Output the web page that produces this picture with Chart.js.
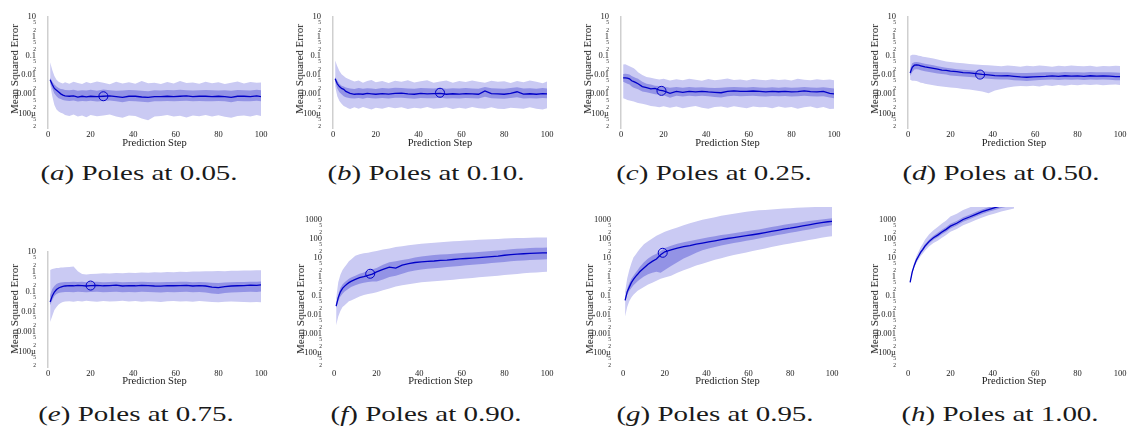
<!DOCTYPE html>
<html><head><meta charset="utf-8">
<script src="https://cdn.jsdelivr.net/npm/chart.js@4/dist/chart.umd.min.js"></script>
<style>
html,body{margin:0;padding:0;background:#fff;}
body{width:1128px;height:427px;position:relative;overflow:hidden;font-family:"Liberation Serif","DejaVu Serif",serif;color:#1a1a1a;}
canvas{position:absolute;}
.yt{position:absolute;font-size:11px;white-space:nowrap;transform:translate(-50%,-50%) rotate(-90deg);}
.cap{position:absolute;font-family:"Liberation Serif",serif;font-size:21px;white-space:nowrap;transform:translate(-50%,-50%) scaleX(1.38);}
</style></head><body>
<script>
// ---- shared x values (prediction steps) ----
const steps = [1,2,3,4,5,6,7,8, 10,12,14,16,18,20, 23,26,29,32,35,38,41,44,47,50, 53,56,59,62,65,68,71,74,77,80, 83,86,89,92,95,98,100];

// ---- y tick labels (log axis) ----
const yMajorValues = [1e-5,1e-4,1e-3,1e-2,1e-1,1,10,100,1000];
const yMajorLabels = ['10µ','100µ','0.001','0.01','0.1','1','10','100','1000'];
const yMinorFactors = [2,5];
const yMinorLabels = ['2','5'];

// ---- panel captions ----
const capLetters = ['a','b','c','d','e','f','g','h'];
const capPoles = ['0.05','0.10','0.25','0.50','0.75','0.90','0.95','1.00'];

// ---- (a) poles 0.05 ----
const medA = [5.6e-3,3.2e-3,2.0e-3,1.6e-3,1.3e-3,1.05e-3,9.0e-4,8.3e-4, 7.9e-4,8.3e-4,7.2e-4,7.9e-4,7.4e-4,7.9e-4, 7.6e-4,7.9e-4,8.3e-4,7.6e-4,6.9e-4,7.9e-4,7.9e-4,7.2e-4,6.9e-4,7.6e-4, 7.6e-4,7.9e-4,7.6e-4,7.9e-4,8.3e-4,7.6e-4,7.9e-4,7.9e-4,7.6e-4,7.9e-4, 7.6e-4,6.9e-4,7.9e-4,7.9e-4,7.6e-4,8.3e-4,7.6e-4];
const q75A = [7.1e-3,4.5e-3,3.2e-3,2.5e-3,2.1e-3,1.9e-3,1.8e-3,1.65e-3, 1.6e-3,1.7e-3,1.5e-3,1.6e-3,1.55e-3,1.7e-3, 1.5e-3,1.75e-3,1.6e-3,1.5e-3,1.55e-3,1.65e-3,1.6e-3,1.5e-3,1.45e-3,1.6e-3, 1.55e-3,1.65e-3,1.6e-3,1.7e-3,1.6e-3,1.55e-3,1.6e-3,1.65e-3,1.6e-3,1.55e-3, 1.6e-3,1.5e-3,1.65e-3,1.6e-3,1.55e-3,1.7e-3,1.6e-3];
const q25A = [4.0e-3,2.0e-3,1.1e-3,7.9e-4,6.3e-4,5.6e-4,5.0e-4,4.8e-4, 4.5e-4,4.7e-4,4.2e-4,4.5e-4,4.3e-4,4.6e-4, 4.2e-4,4.5e-4,4.7e-4,4.3e-4,3.9e-4,4.5e-4,4.4e-4,4.1e-4,3.8e-4,4.3e-4, 4.4e-4,4.5e-4,4.3e-4,4.5e-4,4.6e-4,4.3e-4,4.5e-4,4.4e-4,4.3e-4,4.5e-4, 4.3e-4,3.9e-4,4.5e-4,4.4e-4,4.3e-4,4.6e-4,4.3e-4];
const q95A = [4.5e-2,1.8e-2,8.9e-3,5.6e-3,4.5e-3,4.0e-3,3.6e-3,4.2e-3, 3.5e-3,4.5e-3,3.8e-3,3.4e-3,4.3e-3,3.7e-3, 4.6e-3,3.9e-3,3.3e-3,4.4e-3,3.6e-3,4.2e-3,3.5e-3,4.8e-3,3.7e-3,4.0e-3, 3.4e-3,4.3e-3,3.6e-3,4.9e-3,3.8e-3,4.1e-3,3.5e-3,4.4e-3,3.7e-3,4.2e-3, 3.4e-3,4.0e-3,4.6e-3,3.6e-3,4.3e-3,3.9e-3,4.1e-3];
const q05A = [3.2e-3,7.9e-4,2.8e-4,1.6e-4,1.26e-4,1.1e-4,1.0e-4,8.5e-5, 7.5e-5,9.0e-5,7.0e-5,8.0e-5,6.5e-5,8.5e-5, 7.2e-5,8.0e-5,9.0e-5,7.0e-5,6.0e-5,8.0e-5,7.5e-5,5.5e-5,4.5e-5,7.0e-5, 7.5e-5,8.5e-5,7.0e-5,7.8e-5,6.3e-5,8.0e-5,7.2e-5,8.5e-5,7.0e-5,8.2e-5, 6.8e-5,6.0e-5,7.5e-5,8.0e-5,7.0e-5,8.5e-5,7.5e-5];

// ---- (b) poles 0.10 ----
const medB = [6.3e-3,3.5e-3,2.5e-3,2.0e-3,1.8e-3,1.4e-3,1.26e-3,1.12e-3, 1.0e-3,1.05e-3,1.0e-3,1.1e-3,1.05e-3,1.0e-3, 1.08e-3,1.02e-3,1.1e-3,1.15e-3,1.05e-3,1.0e-3,1.1e-3,1.05e-3,1.08e-3,1.12e-3, 1.0e-3,1.06e-3,1.02e-3,1.08e-3,1.04e-3,1.0e-3,1.5e-3,1.08e-3,1.04e-3,1.0e-3, 1.1e-3,1.35e-3,1.02e-3,1.06e-3,1.0e-3,1.08e-3,1.05e-3];
const q75B = [7.9e-3,5.0e-3,3.5e-3,2.8e-3,2.5e-3,2.25e-3,2.1e-3,2.0e-3, 1.9e-3,2.1e-3,1.95e-3,2.05e-3,2.0e-3,1.9e-3, 2.1e-3,2.0e-3,2.15e-3,2.1e-3,2.0e-3,1.95e-3,2.1e-3,2.05e-3,2.0e-3,2.1e-3, 1.95e-3,2.05e-3,2.0e-3,2.1e-3,2.0e-3,1.95e-3,2.4e-3,2.05e-3,2.0e-3,1.95e-3, 2.1e-3,2.3e-3,2.0e-3,2.05e-3,1.95e-3,2.1e-3,2.0e-3];
const q25B = [4.5e-3,2.0e-3,1.26e-3,1.0e-3,7.9e-4,7.1e-4,6.6e-4,6.3e-4, 6.0e-4,6.4e-4,5.8e-4,6.5e-4,6.2e-4,6.0e-4, 6.4e-4,6.1e-4,6.6e-4,6.5e-4,6.2e-4,5.9e-4,6.4e-4,6.2e-4,6.3e-4,6.5e-4, 6.0e-4,6.3e-4,6.1e-4,6.4e-4,6.2e-4,6.0e-4,7.5e-4,6.3e-4,6.1e-4,5.9e-4, 6.4e-4,7.0e-4,6.1e-4,6.3e-4,6.0e-4,6.4e-4,6.2e-4];
const q95B = [5.6e-2,2.8e-2,1.6e-2,1.1e-2,8.9e-3,7.1e-3,6.3e-3,5.6e-3, 4.6e-3,5.2e-3,4.0e-3,4.8e-3,5.5e-3,4.2e-3, 4.9e-3,3.8e-3,5.0e-3,4.4e-3,5.3e-3,4.1e-3,4.7e-3,5.4e-3,4.0e-3,4.6e-3, 5.1e-3,3.9e-3,4.8e-3,4.3e-3,5.2e-3,4.5e-3,4.0e-3,5.0e-3,4.4e-3,4.7e-3, 3.8e-3,4.9e-3,4.2e-3,5.1e-3,4.5e-3,3.7e-3,4.6e-3];
const q05B = [2.5e-3,7.9e-4,4.5e-4,3.2e-4,2.5e-4,2.2e-4,1.9e-4,1.7e-4, 2.1e-4,1.8e-4,2.2e-4,1.9e-4,1.6e-4,2.0e-4, 1.8e-4,2.2e-4,1.9e-4,2.1e-4,1.7e-4,2.0e-4,1.85e-4,2.2e-4,1.8e-4,1.9e-4, 2.1e-4,1.7e-4,2.0e-4,1.8e-4,2.2e-4,1.9e-4,1.75e-4,2.1e-4,1.8e-4,1.7e-4, 2.0e-4,1.9e-4,1.75e-4,2.1e-4,1.8e-4,1.6e-4,1.9e-4];

// ---- (c) poles 0.25 ----
const medC = [7.1e-3,7.1e-3,6.8e-3,6.3e-3,5.0e-3,4.5e-3,4.0e-3,3.5e-3, 2.5e-3,2.2e-3,1.9e-3,2.0e-3,1.66e-3,1.5e-3, 1.12e-3,1.41e-3,1.26e-3,1.41e-3,1.32e-3,1.41e-3,1.32e-3,1.26e-3,1.2e-3,1.41e-3, 1.5e-3,1.41e-3,1.41e-3,1.48e-3,1.41e-3,1.32e-3,1.41e-3,1.35e-3,1.41e-3,1.32e-3, 1.38e-3,1.5e-3,1.38e-3,1.32e-3,1.41e-3,1.12e-3,1.05e-3];
const q75C = [1.12e-2,1.15e-2,1.12e-2,1.05e-2,8.9e-3,7.9e-3,7.0e-3,6.3e-3, 4.5e-3,3.5e-3,3.2e-3,2.8e-3,2.7e-3,2.5e-3, 2.2e-3,2.4e-3,2.2e-3,2.35e-3,2.25e-3,2.3e-3,2.2e-3,2.1e-3,2.15e-3,2.3e-3, 2.4e-3,2.3e-3,2.25e-3,2.35e-3,2.25e-3,2.2e-3,2.3e-3,2.2e-3,2.3e-3,2.2e-3, 2.25e-3,2.35e-3,2.25e-3,2.2e-3,2.3e-3,2.1e-3,2.0e-3];
const q25C = [4.5e-3,4.0e-3,3.5e-3,3.2e-3,2.5e-3,2.2e-3,2.0e-3,1.8e-3, 1.41e-3,1.26e-3,1.12e-3,1.0e-3,9.5e-4,8.9e-4, 6.6e-4,8.5e-4,7.6e-4,8.3e-4,7.9e-4,8.3e-4,7.8e-4,7.2e-4,6.8e-4,8.0e-4, 8.5e-4,8.0e-4,8.1e-4,8.4e-4,8.0e-4,7.6e-4,8.2e-4,7.8e-4,8.1e-4,7.7e-4, 7.9e-4,8.5e-4,7.9e-4,7.6e-4,8.0e-4,6.8e-4,6.3e-4];
const q95C = [3.5e-2,3.6e-2,3.2e-2,2.8e-2,2.5e-2,2.2e-2,1.8e-2,1.4e-2, 1.0e-2,7.9e-3,7.1e-3,6.3e-3,5.8e-3,6.4e-3, 5.2e-3,6.0e-3,5.4e-3,6.3e-3,5.6e-3,5.0e-3,6.1e-3,5.3e-3,5.8e-3,6.6e-3, 5.5e-3,5.9e-3,5.2e-3,6.2e-3,5.6e-3,5.4e-3,6.0e-3,5.5e-3,5.9e-3,5.2e-3, 6.3e-3,5.7e-3,5.3e-3,6.0e-3,5.5e-3,5.8e-3,5.4e-3];
const q05C = [6.3e-4,5.6e-4,5.0e-4,4.7e-4,4.5e-4,4.2e-4,3.9e-4,3.5e-4, 3.2e-4,2.9e-4,2.5e-4,2.3e-4,2.1e-4,2.4e-4, 2.0e-4,2.3e-4,1.9e-4,2.2e-4,2.5e-4,2.0e-4,1.8e-4,2.2e-4,2.3e-4,2.0e-4, 2.4e-4,2.1e-4,1.9e-4,2.3e-4,2.1e-4,2.2e-4,1.9e-4,2.3e-4,2.0e-4,2.2e-4, 1.8e-4,2.1e-4,2.3e-4,1.9e-4,2.2e-4,1.7e-4,1.8e-4];

// ---- (d) poles 0.50 ----
const medD = [1.26e-2,2.5e-2,3.2e-2,3.3e-2,3.2e-2,3.0e-2,2.8e-2,2.6e-2, 2.4e-2,2.2e-2,2.0e-2,1.8e-2,1.75e-2,1.58e-2, 1.5e-2,1.32e-2,1.3e-2,1.17e-2,1.07e-2,1.0e-2,9.3e-3,8.9e-3,9.3e-3,8.5e-3, 7.9e-3,7.6e-3,7.9e-3,8.3e-3,8.5e-3,8.9e-3,8.5e-3,9.1e-3,8.7e-3,8.9e-3, 8.5e-3,9.1e-3,8.7e-3,8.9e-3,8.7e-3,8.3e-3,8.3e-3];
const q75D = [2.0e-2,4.0e-2,4.5e-2,4.7e-2,4.5e-2,4.3e-2,4.0e-2,3.8e-2, 3.5e-2,3.2e-2,2.8e-2,2.6e-2,2.4e-2,2.2e-2, 2.0e-2,1.86e-2,1.74e-2,1.66e-2,1.58e-2,1.48e-2,1.41e-2,1.38e-2,1.4e-2,1.32e-2, 1.28e-2,1.25e-2,1.3e-2,1.35e-2,1.38e-2,1.4e-2,1.36e-2,1.42e-2,1.38e-2,1.4e-2, 1.35e-2,1.42e-2,1.37e-2,1.4e-2,1.38e-2,1.33e-2,1.32e-2];
const q25D = [8.9e-3,1.41e-2,1.9e-2,2.0e-2,1.9e-2,1.78e-2,1.66e-2,1.58e-2, 1.41e-2,1.32e-2,1.2e-2,1.12e-2,1.05e-2,9.5e-3, 8.9e-3,8.3e-3,7.9e-3,7.4e-3,6.8e-3,6.3e-3,6.0e-3,5.75e-3,5.9e-3,5.4e-3, 5.1e-3,4.9e-3,5.2e-3,5.5e-3,5.6e-3,5.8e-3,5.5e-3,5.9e-3,5.6e-3,5.8e-3, 5.5e-3,5.9e-3,5.6e-3,5.8e-3,5.6e-3,5.4e-3,5.3e-3];
const q95D = [0.1,0.112,0.112,0.107,0.1,0.095,0.089,0.085, 0.079,0.071,0.063,0.056,0.05,0.047, 0.043,0.04,0.037,0.035,0.033,0.032,0.03,0.028,0.031,0.029, 0.027,0.03,0.028,0.031,0.029,0.027,0.03,0.028,0.031,0.029, 0.028,0.03,0.027,0.029,0.028,0.03,0.029];
const q05D = [5.6e-3,5.0e-3,5.0e-3,4.8e-3,4.5e-3,4.0e-3,3.8e-3,3.5e-3, 3.2e-3,2.95e-3,2.7e-3,2.5e-3,2.4e-3,2.24e-3, 2.1e-3,1.9e-3,1.78e-3,1.58e-3,1.41e-3,1.12e-3,1.58e-3,1.9e-3,2.24e-3,2.5e-3, 2.7e-3,2.6e-3,2.8e-3,2.5e-3,2.9e-3,2.7e-3,3.0e-3,2.8e-3,3.1e-3,2.9e-3, 3.2e-3,3.0e-3,3.2e-3,2.9e-3,3.1e-3,3.2e-3,3.0e-3];

// ---- (e) poles 0.75 ----
const medE = [0.032,0.063,0.1,0.132,0.158,0.178,0.19,0.2, 0.21,0.205,0.215,0.21,0.2,0.21, 0.215,0.205,0.21,0.22,0.2,0.21,0.205,0.215,0.21,0.2, 0.195,0.21,0.205,0.21,0.215,0.2,0.21,0.2,0.175,0.165, 0.185,0.2,0.205,0.21,0.22,0.215,0.225];
const q75E = [0.071,0.141,0.2,0.25,0.28,0.3,0.31,0.32, 0.32,0.33,0.32,0.33,0.31,0.32, 0.33,0.31,0.32,0.33,0.31,0.32,0.32,0.33,0.32,0.31, 0.31,0.32,0.32,0.33,0.33,0.31,0.32,0.31,0.29,0.28, 0.3,0.31,0.32,0.32,0.33,0.33,0.34];
const q25E = [0.022,0.04,0.063,0.079,0.089,0.095,0.098,0.1, 0.1,0.097,0.102,0.1,0.096,0.1, 0.102,0.097,0.1,0.103,0.096,0.1,0.098,0.102,0.1,0.096, 0.094,0.1,0.098,0.1,0.102,0.096,0.1,0.095,0.085,0.08, 0.088,0.095,0.098,0.1,0.103,0.1,0.105];
const q95E = [1.26,1.41,1.51,1.58,1.58,1.66,1.7,1.74, 1.8,1.9,1.1,0.79,0.76,0.79, 0.82,0.86,0.84,0.9,0.87,0.92,0.89,0.95,0.93,0.97, 0.95,1.0,0.98,1.04,1.01,1.07,1.05,1.1,1.08,1.13, 1.1,1.16,1.14,1.2,1.18,1.24,1.22];
const q05E = [3.2e-3,6.3e-3,1.26e-2,1.78e-2,2.4e-2,2.8e-2,3.2e-2,3.4e-2, 3.5e-2,3.3e-2,3.6e-2,3.4e-2,3.7e-2,3.5e-2, 3.3e-2,3.6e-2,3.4e-2,3.5e-2,3.7e-2,3.4e-2,3.6e-2,3.3e-2,3.5e-2,3.4e-2, 3.2e-2,3.5e-2,3.6e-2,3.4e-2,3.5e-2,3.3e-2,3.6e-2,3.4e-2,3.2e-2,3.1e-2, 3.3e-2,3.4e-2,3.3e-2,3.2e-2,3.1e-2,3.2e-2,3.1e-2];

// ---- (f) poles 0.90 ----
const medF = [0.028,0.079,0.158,0.24,0.316,0.4,0.48,0.56, 0.71,0.89,1.0,1.17,1.35,1.78, 2.4,3.16,2.8,4.0,4.8,5.5,5.9,6.3,6.6,7.1, 7.4,7.9,8.5,8.9,9.3,9.8,10.5,11.2,12.0,13.2, 14.1,15.1,15.8,16.6,17.0,17.4,17.8];
const q75F = [0.035,0.112,0.25,0.38,0.5,0.63,0.76,0.89, 1.12,1.41,1.66,2.0,2.4,2.8, 4.2,5.6,6.3,7.4,8.5,10,11.2,12.6,13.5,14.5, 15.1,15.8,17,17.8,18.6,19.5,20.9,21.9,23.4,25.1, 26.9,28.8,30.2,31.6,32.4,33.1,33.9];
const q25F = [0.0224,0.05,0.089,0.126,0.166,0.2,0.24,0.28, 0.355,0.417,0.48,0.525,0.55,0.56, 0.71,0.955,1.12,1.41,1.78,2.09,2.34,2.57,2.75,2.95, 3.16,3.39,3.63,3.89,4.17,4.47,4.79,5.13,5.5,5.89, 6.31,6.76,7.08,7.41,7.76,7.94,8.13];
const q95F = [0.071,0.5,1.26,2.24,3.16,4.47,6.31,7.94, 12.6,15.1,16.6,17.8,20,22.4, 26.3,30.2,35.5,39.8,44.7,47.9,52.5,56.2,60.3,63.1, 67.6,70.8,74.1,77.6,81.3,85.1,89.1,91.2,95.5,100, 102,105,107,110,112,112,112];
const q05F = [2.8e-3,7.9e-3,0.0158,0.025,0.0316,0.04,0.05,0.056, 0.071,0.089,0.107,0.12,0.132,0.151, 0.19,0.24,0.3,0.355,0.4,0.447,0.5,0.537,0.575,0.6, 0.646,0.69,0.74,0.79,0.85,0.91,0.98,1.05,1.12,1.2, 1.29,1.38,1.48,1.58,1.66,1.74,1.78];

// ---- (g) poles 0.95 ----
const medG = [0.056,0.158,0.28,0.48,0.71,1.0,1.32,1.78, 2.82,4.47,6.31,8.32,14.1,20, 25.1,31.6,37.2,42.7,50.1,57.5,66.1,75.9,87.1,100, 112,126,141,158,178,204,234,269,309,347, 398,457,525,603,676,759,794];
const q75G = [0.063,0.224,0.447,0.76,1.12,1.58,2.24,3.16, 5.62,8.91,12.6,15.8,22.4,31.6, 41.7,52.5,63.1,74.1,87.1,100,115,132,151,170, 191,214,240,269,302,347,398,457,525,589, 661,741,832,912,1000,1096,1148];
const q25G = [0.05,0.112,0.178,0.251,0.355,0.447,0.562,0.708, 1.0,1.32,1.58,1.78,1.58,2.24, 3.55,5.62,8.91,12.6,17.8,24,30.2,36.3,42.7,50.1, 57.5,66.1,75.9,87.1,100,115,132,151,174,200, 229,263,302,347,398,457,501];
const q95G = [0.158,0.794,2.24,5.01,10,14.1,20,28.2, 50.1,70.8,100,141,178,224, 295,380,501,631,794,955,1122,1318,1585,1778, 1995,2239,2512,2754,3020,3162,3311,3548,3715,3890, 4074,4266,4365,4467,4571,4677,4786];
const q05G = [7.9e-3,0.025,0.05,0.079,0.112,0.141,0.178,0.209, 0.282,0.38,0.479,0.603,0.759,0.891, 1.12,1.58,2.14,2.82,3.8,4.79,6.03,7.59,9.33,11.2, 13.5,15.8,18.6,21.9,25.7,30.2,35.5,41.7,47.9,55, 63.1,72.4,83.2,95.5,110,123,132];

// ---- (h) poles 1.00 (leaves the plot after ~step 45) ----
const medH = [0.5,1.78,3.98,7.59,12,19.1,26.9,39.8, 70.8,110,151,219,302,447, 631,1000,1349,1862,2570,3311,4169,5248,6310,7586];
const q75H = [0.525,1.95,4.47,8.71,14.1,22.9,33.1,50.1, 89.1,141,200,288,398,589, 832,1318,1778,2455,3388,4365,5495,6918,8318,10000];
const q25H = [0.479,1.62,3.55,6.61,10.2,15.8,21.9,31.6, 56.2,85.1,115,166,229,339, 479,759,1023,1413,1950,2512,3162,3981,4786,5754];
const q95H = [0.55,2.24,5.62,12,20.9,36.3,53.7,85.1, 166,275,407,617,891,1413, 1995,3162,4266,5888,8128,10471,13183,16596,19953,23988];
const q05H = [0.457,1.48,3.02,5.37,7.94,12,16.2,22.9, 38.9,57.5,75.9,110,151,224, 316,501,676,933,1288,1660,2089,2630,3162,3802];

// ---- highlighted point (circle marker) per panel ----
const markerStep  = [26, 50, 19, 34, 20, 17, 19, null];
const markerValue = [7.9e-4, 1.2e-3, 1.5e-3, 1.05e-2, 0.21, 1.41, 17.8, null];

const series = [
  [medA,q75A,q25A,q95A,q05A],[medB,q75B,q25B,q95B,q05B],[medC,q75C,q25C,q95C,q05C],[medD,q75D,q25D,q95D,q05D],
  [medE,q75E,q25E,q95E,q05E],[medF,q75F,q25F,q95F,q05F],[medG,q75G,q25G,q95G,q05G],[medH,q75H,q25H,q95H,q05H]
];

// ---------------- layout / style ----------------
const SERIF = '"Liberation Serif","DejaVu Serif",serif';
const YMIN = 1.7e-5;
const plotLeft  = [48,333,621,908, 48,334,623,908];
const plotWidth = [213,214,213,212, 213,213,209,212];
const yMaxes    = [10,10,10,10, 10,4467,4467,4467];
const yLabelMax = [10,10,10,10, 10,1000,1000,1000];
const showAxisLine = [true,true,true,true, true,false,false,false];
const rowTop = [0,190], rowH = [150,198], rowPlotBottom = [128.4,367.4];
const capCX = [139,426,714,1001, 136,426,715,1000];
const capCY = [173,414];
const yTitleCY = [69,309];

const C_OUTER = '#cacaf3', C_INNER = '#9393e5', C_LINE = '#0000c8';

function buildYTicks(maxLabel){
  const t = [];
  yMajorValues.forEach((m,i)=>{
    if (m>=YMIN && m<=maxLabel*1.0001) t.push({value:m, minor:false, text:yMajorLabels[i]});
    yMinorFactors.forEach((f,j)=>{
      const v = m*f;
      if (v>=YMIN && v<=maxLabel*1.0001) t.push({value:v, minor:true, text:yMinorLabels[j]});
    });
  });
  return t.sort((a,b)=>a.value-b.value);
}
function pts(arr){ return arr.map((v,i)=>({x:steps[i], y:v})); }

for (let p=0;p<8;p++){
  const row = p<4?0:1;
  const [med,q75,q25,q95,q05] = series[p];
  const cv = document.createElement('canvas');
  const left = plotLeft[p]-48;
  const w = 48+plotWidth[p]+14;
  const h = rowH[row];
  cv.width = w; cv.height = h;
  cv.style.left = left+'px'; cv.style.top = rowTop[row]+'px';
  cv.style.width = w+'px'; cv.style.height = h+'px';
  document.body.appendChild(cv);

  const plotBottom = rowPlotBottom[row];
  const decades = Math.log10(yMaxes[p]) - Math.log10(YMIN);
  const plotTop = plotBottom - 20*decades;
  const padTop = plotTop - rowTop[row];
  const xAxisH = rowTop[row] + h - plotBottom;
  const ticksList = buildYTicks(yLabelMax[p]);

  const datasets = [
    {data:pts(med), borderColor:C_LINE, borderWidth:1.3, pointRadius:0, fill:false, order:0},
    {data: markerStep[p]!==null ? [{x:markerStep[p], y:markerValue[p]}] : [], showLine:false,
     pointRadius:4.5, pointBorderWidth:1, pointBorderColor:C_LINE, pointBackgroundColor:'rgba(0,0,0,0)', order:-1},
    {data:pts(q75), borderWidth:0, borderColor:'rgba(0,0,0,0)', pointRadius:0, fill:3, backgroundColor:C_INNER, order:1},
    {data:pts(q25), borderWidth:0, borderColor:'rgba(0,0,0,0)', pointRadius:0, fill:false, order:1},
    {data:pts(q95), borderWidth:0, borderColor:'rgba(0,0,0,0)', pointRadius:0, fill:5, backgroundColor:C_OUTER, order:2},
    {data:pts(q05), borderWidth:0, borderColor:'rgba(0,0,0,0)', pointRadius:0, fill:false, order:2}
  ];

  new Chart(cv, {
    type:'line',
    data:{datasets},
    options:{
      responsive:false, animation:false, devicePixelRatio:1,
      layout:{padding:{top:padTop, right:14, bottom:0, left:0}},
      plugins:{legend:{display:false}, tooltip:{enabled:false}},
      elements:{line:{tension:0}},
      scales:{
        x:{type:'linear', min:0, max:100,
           grid:{display:false, drawTicks:false}, border:{display:false},
           ticks:{stepSize:20, padding:1, maxRotation:0, color:'#1a1a1a', font:{family:SERIF, size:8.5}},
           title:{display:true, text:'Prediction Step', color:'#1a1a1a', font:{family:SERIF, size:10.5}, padding:{top:0,bottom:0}},
           afterFit:(s)=>{ s.height = xAxisH; }
        },
        y:{type:'logarithmic', min:YMIN, max:yMaxes[p],
           grid:{display:false, drawTicks:false},
           border:{display:showAxisLine[p], color:'#cfcfcf', width:1.5},
           ticks:{autoSkip:false, padding:12, color:'#1a1a1a',
             font:(ctx)=>({family:SERIF, size:(ctx.tick && ctx.tick.minor)?5.5:8.5}),
             callback:function(v){ const t = ticksList.find(o=>Math.abs(Math.log10(o.value)-Math.log10(v))<1e-6); return t?t.text:''; }
           },
           afterBuildTicks:(s)=>{ s.ticks = ticksList.map(o=>({value:o.value, minor:o.minor})); },
           afterFit:(s)=>{ s.width = 48; }
        }
      }
    }
  });

  const yt = document.createElement('div');
  yt.className='yt'; yt.textContent='Mean Squared Error';
  yt.style.left = (plotLeft[p]-34)+'px'; yt.style.top = yTitleCY[row]+'px';
  document.body.appendChild(yt);

  const cap = document.createElement('div');
  cap.className='cap';
  cap.innerHTML = '(<i>'+capLetters[p]+'</i>) Poles at '+capPoles[p]+'.';
  cap.style.left = capCX[p]+'px'; cap.style.top = capCY[row]+'px';
  document.body.appendChild(cap);
}
</script>
</body></html>
